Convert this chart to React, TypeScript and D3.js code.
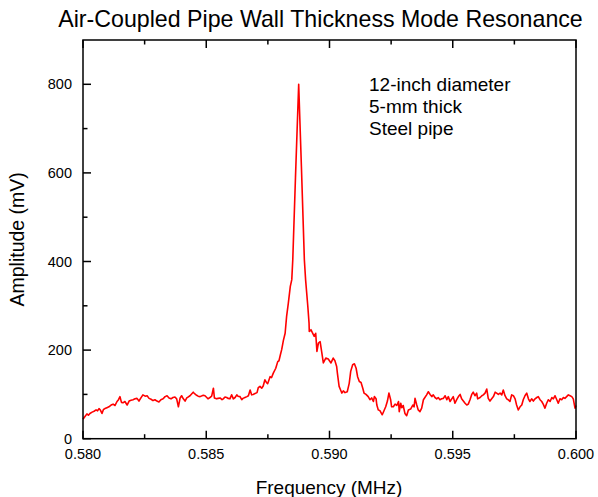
import React from "react";
import * as d3 from "d3";

const TITLE = "Air-Coupled Pipe Wall Thickness Mode Resonance";
const X_LABEL = "Frequency (MHz)";
const Y_LABEL = "Amplitude (mV)";
const NOTES = ["12-inch diameter", "5-mm thick", "Steel pipe"];

const X_MAJOR = [0.58, 0.585, 0.59, 0.595, 0.6];
const X_MINOR = [0.5825, 0.5875, 0.5925, 0.5975];
const Y_MAJOR = [0, 200, 400, 600, 800];
const Y_MINOR = [100, 300, 500, 700];

const FREQ = [
  0.58, 0.58008, 0.58016, 0.58022, 0.58028, 0.58037, 0.58045, 0.58053, 0.58059, 0.58065,
  0.58071, 0.58077, 0.58083, 0.58089, 0.58097, 0.58105, 0.58114, 0.58122, 0.5813, 0.58138,
  0.58144, 0.5815, 0.58156, 0.58162, 0.5817, 0.58179, 0.58187, 0.58195, 0.58203, 0.58211,
  0.58219, 0.58227, 0.58235, 0.58243, 0.58252, 0.5826, 0.58268, 0.58276, 0.58284, 0.58292,
  0.583, 0.58308, 0.58316, 0.58325, 0.58333, 0.58341, 0.58349, 0.58357, 0.58365,
  0.58373, 0.5838, 0.58387, 0.58394, 0.584, 0.58407, 0.58414, 0.58421, 0.58426, 0.58434,
  0.58447, 0.58454, 0.58461, 0.58467, 0.58475, 0.58488, 0.58495, 0.58502, 0.58507, 0.58515,
  0.58522, 0.58529, 0.58533, 0.58542, 0.58548, 0.58556, 0.58564, 0.58569, 0.58576, 0.58583,
  0.58588, 0.58596, 0.58603, 0.5861, 0.58617, 0.58624, 0.58629, 0.58637, 0.58644, 0.58649,
  0.58657, 0.58665, 0.58671, 0.58678, 0.58684, 0.5869, 0.58698,
  0.58706, 0.58711, 0.58718, 0.58725, 0.58731, 0.58738, 0.58744, 0.58749, 0.58759, 0.58765,
  0.58772, 0.58782, 0.5879, 0.58795, 0.58801, 0.58806, 0.58813, 0.5882, 0.58826, 0.58833,
  0.58841, 0.58847, 0.58851, 0.58862, 0.58875, 0.58886, 0.58898, 0.58903, 0.58912, 0.58917,
  0.58918, 0.58925, 0.5893, 0.58938, 0.58944, 0.58949, 0.58955, 0.58962, 0.58968, 0.58975,
  0.58985, 0.58995, 0.59006, 0.59015, 0.59022, 0.59029, 0.59032, 0.59039,
  0.59045, 0.5905, 0.59056, 0.59063, 0.59072, 0.5908, 0.59086, 0.59094, 0.59101, 0.59108,
  0.59114, 0.59121, 0.59128, 0.59135, 0.5914, 0.59148, 0.59157, 0.59164, 0.59171, 0.59178,
  0.59182, 0.59189, 0.59192, 0.59198, 0.59205, 0.59214, 0.59221, 0.59228, 0.59235, 0.59241,
  0.59248, 0.59252, 0.59259, 0.59266, 0.59273, 0.5928, 0.59283, 0.59289, 0.59293, 0.59299,
  0.59306, 0.59313, 0.5932, 0.59329, 0.59338, 0.59343, 0.59347, 0.59354, 0.5936, 0.59367,
  0.59374, 0.59381, 0.59387, 0.59394, 0.59401, 0.59408, 0.59415, 0.59421, 0.59428, 0.59435,
  0.59441, 0.59448, 0.59455, 0.59462, 0.59469, 0.59476, 0.59482, 0.59489, 0.59496, 0.59502,
  0.59509, 0.59516, 0.59523, 0.5953, 0.59536, 0.59543, 0.5955, 0.59557, 0.59563, 0.5957,
  0.59577, 0.59583, 0.5959, 0.59597, 0.59601, 0.59611, 0.59618, 0.59624, 0.59631, 0.59638,
  0.59644, 0.59651, 0.59658, 0.59665, 0.59672, 0.59678, 0.59685,
  0.59692, 0.59699, 0.59705, 0.59712, 0.59719, 0.59725, 0.59732, 0.59739, 0.59746, 0.59753,
  0.59759, 0.59766, 0.59773, 0.5978, 0.59786, 0.59793, 0.598, 0.59807, 0.59813, 0.5982,
  0.59827, 0.59834, 0.59841, 0.59847, 0.59854, 0.59861, 0.59867, 0.59874, 0.59881, 0.59888,
  0.59895, 0.59902, 0.59908, 0.59915, 0.59922, 0.59928, 0.59935, 0.59942, 0.59949, 0.59955,
  0.59962, 0.59969, 0.59976, 0.59983, 0.59989, 0.59996, 0.6,
];

const AMP = [
  44, 50, 56, 53, 57, 60, 62, 65, 63, 68,
  64, 57, 66, 68, 70, 72, 76, 78, 75, 84,
  88, 95, 82, 81, 84, 76, 85, 87, 88, 90,
  91, 85, 92, 99, 96, 97, 91, 89, 86, 88,
  85, 83, 88, 90, 95, 97, 92, 90, 93,
  94, 90, 72, 92, 97, 90, 85, 92, 94, 97,
  105, 101, 98, 96, 95, 98, 97, 93, 90, 93,
  96, 114, 92, 90, 91, 92, 88, 90, 94, 93,
  91, 90, 99, 90, 93, 99, 96, 95, 88, 91,
  93, 95, 97, 110, 99, 100, 102,
  104, 115, 118, 114, 119, 133, 127, 124, 140, 138,
  148, 159, 174, 176, 190, 201, 222, 238, 276, 306,
  344, 359, 404, 590, 800, 615, 404, 359, 299, 261,
  242, 246, 240, 231, 238, 197, 216, 219, 197, 171,
  182, 180, 171, 182, 176, 163, 148, 118,
  110, 103, 108, 104, 106, 125, 152, 167, 169, 159,
  140, 129, 127, 114, 103, 100, 95, 88, 92, 84,
  95, 90, 76, 65, 63, 54, 63, 72, 85, 103,
  88, 72, 72, 78, 75, 84, 61, 80, 70, 75,
  57, 52, 65, 67, 76, 72, 91, 76, 65, 61,
  69, 88, 93, 99, 106, 100, 95, 99, 93, 90,
  93, 88, 90, 91, 97, 88, 95, 84, 90, 95,
  80, 88, 95, 100, 90, 85, 80, 76, 78, 88,
  100, 105, 97, 103, 90, 93, 97, 99, 103, 112,
  91, 85, 90, 95, 105, 103, 100,
  103, 99, 110, 97, 90, 88, 84, 99, 97, 90,
  76, 65, 72, 76, 88, 97, 103, 90, 84, 90,
  85, 90, 93, 95, 88, 84, 78, 69, 80, 88,
  84, 93, 90, 97, 88, 80, 90, 88, 93, 91,
  95, 99, 97, 95, 90, 69, 75,
];

const W = 598;
const H = 497;
const FONT = "'Liberation Sans', Arial, Helvetica, sans-serif";

export default function App() {
  const left = 83;
  const right = 576;
  const top = 40;
  const bottom = 438.7;

  const x = d3.scaleLinear().domain([0.58, 0.6]).range([left, right]);
  const y = d3.scaleLinear().domain([0, 900]).range([bottom, top]);

  const points: [number, number][] = FREQ.map((f, i) => [f, AMP[i]]);
  const line = d3
    .line<[number, number]>()
    .x((d) => x(d[0]))
    .y((d) => y(d[1]));

  const fmt = d3.format(".3f");
  const axisColor = "#000";

  return (
    <svg
      width={W}
      height={H}
      style={{ position: "absolute", left: 0, top: 0, background: "#fff" }}
      fontFamily={FONT}
    >
      <rect x={0} y={0} width={W} height={H} fill="#fff" />
      <text x={320.5} y={27} textAnchor="middle" fontSize={23.2} fill="#000">
        {TITLE}
      </text>

      {/* data */}
      <path d={line(points) || ""} fill="none" stroke="#ff0000" strokeWidth={1.6} strokeLinejoin="round" />

      {/* frame */}
      <rect
        x={left}
        y={top}
        width={right - left}
        height={bottom - top}
        fill="none"
        stroke={axisColor}
        strokeWidth={1.5}
      />

      {/* bottom / top ticks */}
      {X_MAJOR.map((t) => (
        <g key={"xb" + t}>
          <line x1={x(t)} x2={x(t)} y1={bottom} y2={bottom - 8} stroke={axisColor} strokeWidth={1.5} />
          <line x1={x(t)} x2={x(t)} y1={top} y2={top + 8} stroke={axisColor} strokeWidth={1.5} />
          <text x={x(t)} y={459} textAnchor="middle" fontSize={14.5} fill="#000">
            {fmt(t)}
          </text>
        </g>
      ))}
      {X_MINOR.map((t) => (
        <g key={"xm" + t}>
          <line x1={x(t)} x2={x(t)} y1={bottom} y2={bottom - 4.5} stroke={axisColor} strokeWidth={1.5} />
          <line x1={x(t)} x2={x(t)} y1={top} y2={top + 4.5} stroke={axisColor} strokeWidth={1.5} />
        </g>
      ))}

      {/* left ticks */}
      {Y_MAJOR.map((t) => (
        <g key={"yl" + t}>
          <line x1={left} x2={left + 8} y1={y(t)} y2={y(t)} stroke={axisColor} strokeWidth={1.5} />
          <text x={72} y={y(t) + 5} textAnchor="end" fontSize={14.5} fill="#000">
            {t}
          </text>
        </g>
      ))}
      {Y_MINOR.map((t) => (
        <line key={"ym" + t} x1={left} x2={left + 4.5} y1={y(t)} y2={y(t)} stroke={axisColor} strokeWidth={1.5} />
      ))}

      {/* axis titles */}
      <text x={329} y={494} textAnchor="middle" fontSize={19} fill="#000">
        {X_LABEL}
      </text>
      <text
        transform={`translate(24, ${(top + bottom) / 2}) rotate(-90)`}
        textAnchor="middle"
        fontSize={19.5}
        fill="#000"
      >
        {Y_LABEL}
      </text>

      {/* notes */}
      {NOTES.map((n, i) => (
        <text key={n} x={369} y={91 + i * 22} fontSize={19} fill="#000">
          {n}
        </text>
      ))}
    </svg>
  );
}
